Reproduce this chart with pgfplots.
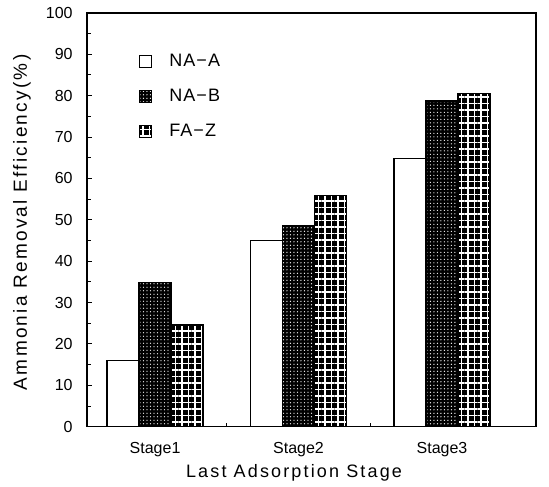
\documentclass[border=0pt]{standalone}
\usepackage{fontspec}
\setmainfont{Liberation Sans}
\newfontfamily\labfont[LetterSpace=12]{Liberation Sans}
\newfontfamily\legfont[LetterSpace=6]{Liberation Sans}
\usepackage{pgfplots}
\pgfplotsset{compat=1.18}
\usetikzlibrary{patterns,patterns.meta}

\pgfplotsset{
  sqleg/.style={legend image code/.code={
      \draw[##1,line width=1bp] (0bp,-6bp) rectangle (12bp,6bp);}},
  naa/.style={draw=black,line width=1.2bp,fill=white},
  nab/.style={draw=black,line width=1.2bp,fill=black,
    postaction={pattern={Dots[distance=3.5bp,radius=0.65bp]},pattern color=white}},
  faz/.style={draw=black,line width=1.2bp,fill=black,
    postaction={pattern={Lines[angle=0,distance=6.5bp,line width=1.5bp]},pattern color=white},
    postaction={pattern={Lines[angle=90,distance=6.5bp,line width=1.5bp]},pattern color=white}},
}

\begin{document}
\begin{tikzpicture}
\begin{axis}[
  scale only axis, width=449bp, height=414bp,
  /pgf/number format/assume math mode=true,
  ybar=0pt, bar width=0.223,
  xmin=-0.474, xmax=2.655, ymin=0, ymax=100,
  axis line style={line width=1.4bp},
  xtick={0,1,2}, xticklabels={Stage1,Stage2,Stage3},
  major x tick style={draw=none},
  minor xtick={0.5,1.5},
  ytick={0,10,...,100}, minor ytick={5,15,...,95},
  ytick pos=left, xtick pos=bottom, tick align=inside,
  major tick length=5bp, minor tick length=4bp,
  tick style={line width=1bp,black},
  ticklabel style={font=\fontsize{16bp}{19bp}\selectfont},
  yticklabel style={xshift=-11bp},
  xticklabel style={yshift=-12bp},
  ylabel={\labfont\fontsize{19bp}{22bp}\selectfont Ammonia Removal Efficiency(\%)},
  ylabel style={at={(axis description cs:-0.145,0.494)},anchor=center},
  xlabel={\labfont\fontsize{18bp}{21bp}\selectfont Last Adsorption Stage},
  xlabel style={at={(axis description cs:0.461,-0.112)},anchor=center},
  legend style={at={(axis description cs:0.116,0.905)},anchor=north west,
    draw=none,fill=none,inner sep=0pt,row sep=17bp,
    font=\legfont\fontsize{18bp}{21bp}\selectfont,
    nodes={inner sep=2bp,anchor=west}},
  legend cell align=left,
]
\addplot[naa,sqleg] coordinates {(0,16) (1,45) (2,64.8)};
\addplot[nab,sqleg] coordinates {(0,34.8) (1,48.7) (2,78.7)};
\addplot[faz,sqleg] coordinates {(0,24.6) (1,55.8) (2,80.6)};
\legend{\hspace{15bp}NA−A,\hspace{15bp}NA−B,\hspace{15bp}FA−Z}
\coordinate (bl) at (axis description cs:-0.194,-0.145);
\coordinate (tr) at (axis description cs:1.029,1.031);
\end{axis}
\path (bl) rectangle (tr);
\end{tikzpicture}
\end{document}
